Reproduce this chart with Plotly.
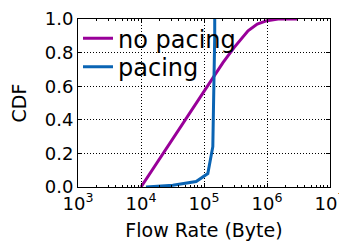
import plotly.graph_objects as go

# data
nopacing_x = [1e4, 2e4, 5e4, 1e5, 2e5, 3e5, 4e5, 5e5, 7e5, 1e6, 1.5e6, 3e6]
nopacing_y = [0.0, 0.17, 0.40, 0.567, 0.74, 0.83, 0.89, 0.93, 0.97, 0.99, 1.0, 1.0]
pacing_x = [1.2e4, 3.2e4, 7.5e4, 1.15e5, 1.38e5, 1.45e5, 1.48e5, 1.48e5]
pacing_y = [0.0, 0.01, 0.033, 0.08, 0.24, 0.6, 0.9, 1.0]
xtick_vals = [1e3, 1e4, 1e5, 1e6, 1e7]
xtick_text = ["10<sup>3</sup>", "10<sup>4</sup>", "10<sup>5</sup>", "10<sup>6</sup>", "10<sup>7</sup>"]
ytick_vals = [0.0, 0.2, 0.4, 0.6, 0.8, 1.0]
ytick_text = ["0.0", "0.2", "0.4", "0.6", "0.8", "1.0"]

FONT = "DejaVu Sans"

fig = go.Figure()
fig.add_trace(go.Scatter(x=nopacing_x, y=nopacing_y, mode="lines", name="no pacing",
                         line=dict(color="#990099", width=3), legend="legend"))
fig.add_trace(go.Scatter(x=pacing_x, y=pacing_y, mode="lines", name="pacing",
                         line=dict(color="#0a64b4", width=3), legend="legend2"))

axis_common = dict(showline=True, linecolor="black", linewidth=1, mirror="allticks",
                   ticks="inside", ticklen=4, tickcolor="black", automargin=False,
                   ticklabeloverflow="allow",
                   showgrid=True, gridcolor="black", griddash="1px,2px", gridwidth=0.7,
                   zeroline=False, tickfont=dict(family=FONT, size=18, color="black"))

leg_common = dict(xanchor="left", yanchor="middle", bgcolor="rgba(0,0,0,0)",
                  font=dict(family=FONT, size=24, color="black"), itemwidth=30)

# the page body has an 8px margin, so the figure is 8px smaller than the window
fig.update_layout(
    width=339, height=233,
    margin=dict(l=70, r=17, t=8, b=54),
    paper_bgcolor="white", plot_bgcolor="white",
    font=dict(family=FONT, color="black"),
    showlegend=True,
    legend=dict(x=0.0, y=0.883, **leg_common),
    legend2=dict(x=0.0, y=0.713, **leg_common),
    xaxis=dict(type="log", range=[3, 7], tickvals=xtick_vals, ticktext=xtick_text,
               title=dict(text="Flow Rate (Byte)", font=dict(family=FONT, size=19), standoff=13),
               minor=dict(ticks="inside", ticklen=2, tickcolor="black", showgrid=False, dtick="D1"),
               **axis_common),
    yaxis=dict(range=[0, 1], tickvals=ytick_vals, ticktext=ytick_text,
               title=dict(text="CDF", font=dict(family=FONT, size=19), standoff=14),
               **axis_common),
)

fig.write_html("out.html")
